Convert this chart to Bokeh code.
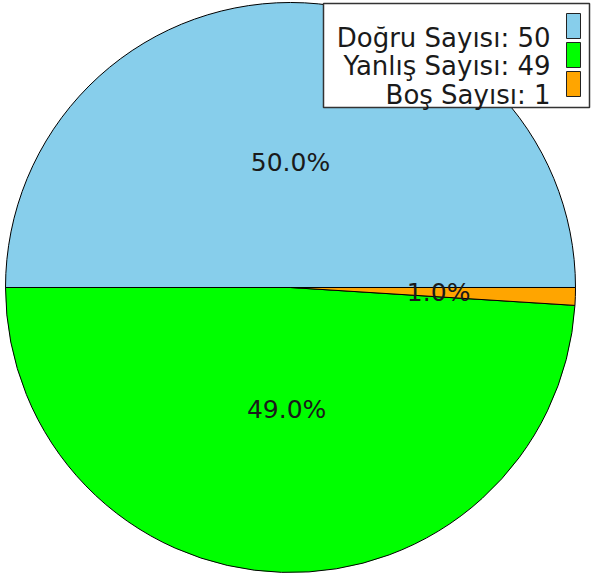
import numpy as np
from bokeh.plotting import figure
from bokeh.models import Range1d
from bokeh.core.properties import value
from bokeh.embed import file_html
from bokeh.resources import INLINE

# ---- data ----
categories = ["Doğru Sayısı", "Yanlış Sayısı", "Boş Sayısı"]
counts = [50, 49, 1]
colors = ["#87CEEB", "#00FF00", "#FFA500"]

# ---- layout (pixels) ----
W, H = 591, 577
CX, CY = 290, 287          # pie centre in page pixels
R = 285                    # pie radius
label_dist = [0.44, 0.43, 0.52]
FONT = "DejaVu Sans"

p = figure(width=W, height=H, output_backend="svg", toolbar_location=None,
           x_range=Range1d(-CX, W - CX), y_range=Range1d(-(H - CY), CY),
           x_axis_location=None, y_axis_location=None,
           min_border=0, min_border_left=0, min_border_right=0,
           min_border_top=0, min_border_bottom=0)
p.grid.visible = False
p.outline_line_color = None
p.background_fill_color = "white"
p.border_fill_color = "white"

vals = np.array(counts, dtype=float)
frac = vals / vals.sum()
ends = np.cumsum(frac) * 2 * np.pi
starts = ends - frac * 2 * np.pi

p.wedge(x=0, y=0, radius=R, start_angle=list(starts), end_angle=list(ends),
        fill_color=colors, line_color="black", line_width=1)

mid = (starts + ends) / 2
lr = np.array(label_dist) * R
p.text(x=list(lr * np.cos(mid)), y=list(lr * np.sin(mid)),
       text=[f"{100 * f:.1f}%" for f in frac],
       text_align="center", text_baseline="middle",
       text_font=value(FONT), text_font_size="25px", text_color="#1a1a1a")

# ---- legend (custom: text right-aligned, swatch on the right) ----
LX0, LX1, LY0, LY1 = 323, 589, 3, 107
p.quad(left=LX0 - CX, right=LX1 - CX, top=CY - LY0, bottom=CY - LY1,
       fill_color="white", line_color="#333333", line_width=1.5)

pitch = 28.5
rows = np.arange(len(categories))
p.text(x=[550 - CX] * len(categories),
       y=list(CY - (37 + pitch * rows)),
       text=[f"{c}: {n}" for c, n in zip(categories, counts)],
       text_align="right", text_baseline="alphabetic",
       text_font=value(FONT), text_font_size="26px", text_color="#1a1a1a")
p.rect(x=[573 - CX] * len(categories), y=list(CY - (25.5 + 29 * rows)),
       width=14, height=25, fill_color=colors, line_color="#222222", line_width=1)

open("out.html", "w").write(file_html(p, INLINE))
